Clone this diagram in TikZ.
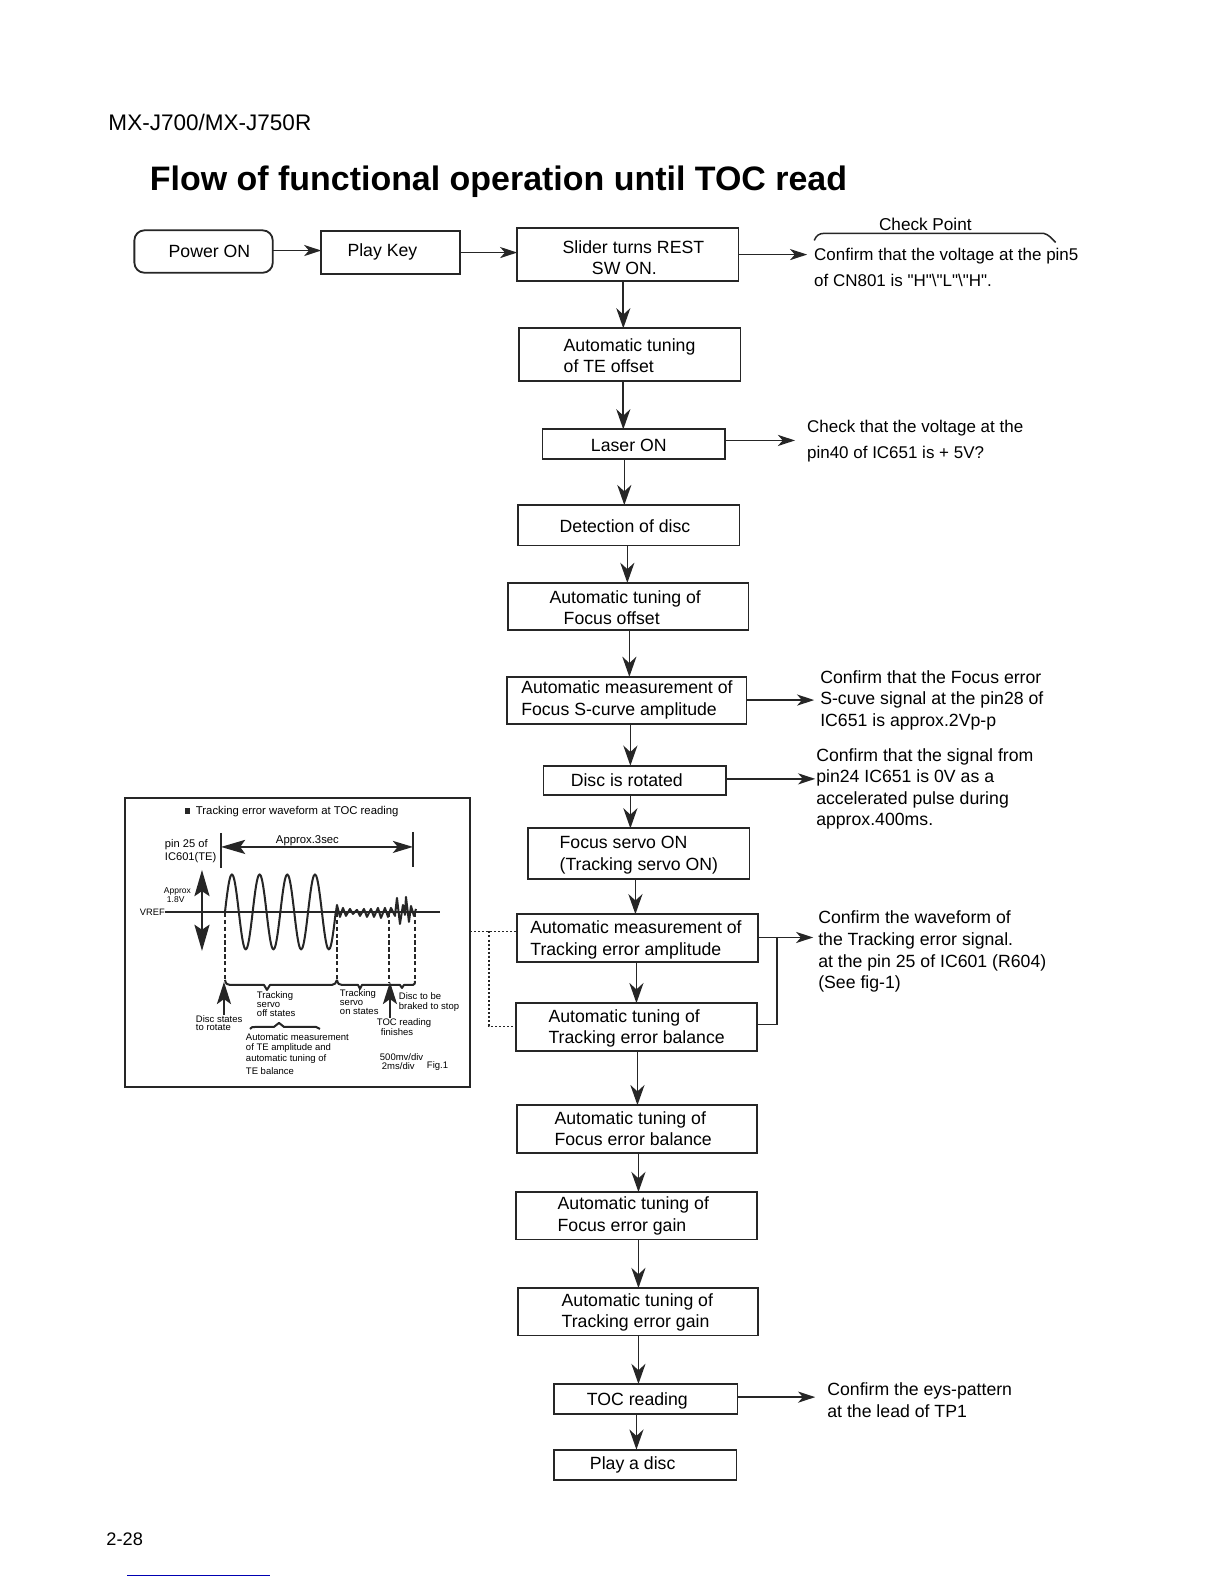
\documentclass[tikz,border=0pt]{standalone}
\usepackage{fontspec}
\setmainfont{Liberation Sans}
\newfontfamily\qf{Liberation Sans}
\usetikzlibrary{arrows.meta,calc}
\newcommand\bxbody{\fontsize{8.75}{10.7}\selectfont}
\tikzset{
  boxs/.style={draw=black!85,line width=0.9pt,rectangle,inner sep=0pt,outer sep=0pt,font=\bxbody},
  lbl/.style={anchor=west,inner sep=0pt,outer sep=0pt,align=left,font=\bxbody},
  arr/.style={draw=black!85,line width=0.8pt,-{Stealth[length=10pt,width=7pt,inset=3.2pt]}},
  arh/.style={draw=black!85,line width=0.75pt,-{Stealth[length=8.5pt,width=5.5pt,inset=2.4pt]}},
  plain/.style={draw=black!85,line width=0.75pt},
  dots/.style={draw=black!85,line width=0.75pt,dash pattern=on 1pt off 1pt},
  ptx/.style={anchor=west,inner sep=0pt,outer sep=0pt,font=\fontsize{4.7}{5.5}\selectfont},
  wave/.style={draw=black!85,line width=1pt,line join=round},
  ddash/.style={draw=black!85,line width=0.9pt,dash pattern=on 2.2pt off 1.2pt},
  parr/.style={draw=black!85,line width=0.75pt,-{Stealth[length=11pt,width=7pt,inset=2.5pt]}}
}
% left-positioned text box: name,x1,y1,x2,y2,text-left,text,shift down
\newcommand\bxl[8]{%
  \pgfmathsetmacro\bxx{(#2+#4)/2}\pgfmathsetmacro\bxy{(#3+#5)/2}%
  \pgfmathsetmacro\bxw{(#4-#2)*0.5}\pgfmathsetmacro\bxh{(#5-#3)*0.5}%
  \pgfmathsetmacro\bxp{(#6-#2)*0.5}\pgfmathsetmacro\bxd{(#8+4.4)*0.5}%
  \node[boxs,minimum width=\bxw pt,minimum height=\bxh pt](#1) at (\bxx,\bxy)
    {\makebox[\bxw pt][l]{\hspace*{\bxp pt}\raisebox{-\bxd pt}[0pt][0pt]{\begin{tabular}{@{}l@{}}#7\end{tabular}}}};}
\begin{document}
\begin{tikzpicture}[x=0.5pt,y=-0.5pt]
\useasboundingbox (0,0) rectangle (1211.6,1568);
% page texts
\node[anchor=west,inner sep=0pt,font=\fontsize{11.15}{13}\selectfont] (hdr) at (107,121) {MX-J700/MX-J750R};
\node[anchor=west,inner sep=0pt,font=\bfseries\fontsize{16.8}{20}\selectfont] (ttl) at (148,180) {Flow of functional operation until TOC read};
\node[anchor=west,inner sep=0pt,font=\fontsize{9}{11}\selectfont] (pg) at (105,1524) {2-28};
\draw[blue!70!black,line width=0.4pt] (126,1559) -- (267,1559);
% boxes
\bxl{pwr}{133}{228}{270}{270}{167}{Power ON}{2}
\draw[draw=white,line width=1.2pt] (pwr.south west) rectangle (pwr.north east);
\draw[draw=black!85,line width=0.9pt,rounded corners=5pt] (pwr.south west) rectangle (pwr.north east);
\bxl{play}{318}{229}{455}{271}{344}{Play Key}{0}
\bxl{slider}{512}{226}{731}{278}{557}{Slider turns REST\\\hspace*{14.5pt}SW ON.}{5}
\bxl{teoff}{514}{325}{733}{377}{558}{Automatic tuning\\of TE offset}{3}
\bxl{laser}{537}{425}{718}{454}{585}{Laser ON}{3}
\bxl{detect}{513}{500}{732}{540}{554}{Detection of disc}{3}
\bxl{foff}{503}{577}{741}{624}{544}{Automatic tuning of\\\hspace*{7pt}Focus offset}{3}
\bxl{scurve}{502}{670}{739}{717}{516}{Automatic measurement of\\Focus S-curve amplitude}{0}
\bxl{rot}{538}{758}{719}{787}{565}{Disc is rotated}{2}
\bxl{fservo}{523}{820}{742}{870}{554}{Focus servo ON\\(Tracking servo ON)}{1.5}
\bxl{tamp}{512}{905}{750}{952}{525}{Automatic measurement of\\Tracking error amplitude}{2}
\bxl{tbal}{511}{993}{749}{1040}{543}{Automatic tuning of\\Tracking error balance}{2}
\bxl{febal}{512}{1094}{749}{1141}{549}{Automatic tuning of\\Focus error balance}{2}
\bxl{fegain}{511}{1180}{749}{1227}{552}{Automatic tuning of\\Focus error gain}{0.5}
\bxl{tegain}{513}{1275}{750}{1322}{556}{Automatic tuning of\\Tracking error gain}{1}
\bxl{toc}{548}{1370}{730}{1400}{581}{TOC reading}{2}
\bxl{pdisc}{548}{1435}{729}{1465}{584}{Play a disc}{0}
% right-hand notes
\node[inner sep=0pt,font=\fontsize{8.5}{10}\selectfont] (chk) at (916,222) {Check Point};
\draw[plain] (806,238) .. controls (808,233) and (811,231) .. (816,231) -- (1033,231) .. controls (1038,232) and (1041,236) .. (1045,240);
\node[lbl,font=\fontsize{8.4}{13}\selectfont] (n1) at (806,265) {Confirm that the voltage at the pin5\\{\qf of CN801 is "H"\textbackslash"L"\textbackslash"H".}};
\node[lbl,font=\fontsize{8.4}{13}\selectfont] (n2) at (799,437) {Check that the voltage at the\\pin40 of IC651 is + 5V?};
\node[lbl] (n3) at (812,693) {Confirm that the Focus error\\S-cuve signal at the pin28 of\\IC651 is approx.2Vp-p};
\node[lbl] (n4) at (808,781) {Confirm that the signal from\\pin24 IC651 is 0V as a\\accelerated pulse during\\approx.400ms.};
\node[lbl] (n5) at (810,942) {Confirm the waveform of\\the Tracking error signal.\\at the pin 25 of IC601 (R604)\\(See fig-1)};
\node[lbl] (n6) at (819,1386) {Confirm the eys-pattern\\at the lead of TP1};
% flow connectors
\draw[arh] (pwr.east |- 0,248) -- (play.west |- 0,248);
\draw[arh] (play.east |- 0,250) -- (slider.west |- 0,250);
\coordinate (c1) at (799,252); \draw[arh] (slider.east |- c1) -- (c1);
\coordinate (c2) at (787,436); \draw[arh] (laser.east |- c2) -- (c2);
\coordinate (c3) at (806,693); \draw[arh] (scurve.east |- c3) -- (c3);
\coordinate (c4) at (807,771); \draw[arh] (rot.east |- c4) -- (c4);
\coordinate (c5) at (805,928); \draw[arh] (tamp.east |- c5) -- (c5);
\coordinate (c6) at (807,1383); \draw[arh] (toc.east |- c6) -- (c6);
\draw[plain] (tbal.east |- 0,1014) -| (769,928);
\draw[arr] (slider.south -| 617,0) -- (teoff.north -| 617,0);
\draw[arr] (teoff.south -| 617,0) -- (laser.north -| 617,0);
\draw[arr] (laser.south -| 618,0) -- (detect.north -| 618,0);
\draw[arr] (detect.south -| 621,0) -- (foff.north -| 621,0);
\draw[arr] (foff.south -| 623,0) -- (scurve.north -| 623,0);
\draw[arr] (scurve.south -| 624,0) -- (rot.north -| 624,0);
\draw[arr] (rot.south -| 624,0) -- (fservo.north -| 624,0);
\draw[arr] (fservo.south -| 629,0) -- (tamp.north -| 629,0);
\draw[arr] (tamp.south -| 630,0) -- (tbal.north -| 630,0);
\draw[arr] (tbal.south -| 631,0) -- (febal.north -| 631,0);
\draw[arr] (febal.south -| 632,0) -- (fegain.north -| 632,0);
\draw[arr] (fegain.south -| 632,0) -- (tegain.north -| 632,0);
\draw[arr] (tegain.south -| 632,0) -- (toc.north -| 632,0);
\draw[arr] (toc.south -| 630,0) -- (pdisc.north -| 630,0);
% panel
\node[draw=black!85,line width=1pt,rectangle,inner sep=0pt,outer sep=0pt,minimum width=170.5pt,minimum height=143pt] (panel) at (294.5,933) {};
\draw[dots] (panel.east |- 0,922) -- (tamp.west |- 0,922);
\draw[dots] (484,922) |- (tbal.west |- 0,1016);
\begin{scope}[scale=0.9898]
\fill[black!85] (185,808) rectangle (190,814);
\node[ptx,font=\fontsize{5.6}{6}\selectfont] (a1) at (196,812) {Tracking error waveform at TOC reading};
\draw[plain] (221,833) coordinate (b1) -- (221,868);
\draw[plain] (413,832) coordinate (b2) -- (413,867);
\draw[parr,{Stealth[length=12pt,width=7pt,inset=2.5pt]}-{Stealth[length=10pt,width=6pt,inset=2.5pt]}] (221,847) -- (413,847);
\node[ptx,font=\fontsize{5.6}{6}\selectfont] (a2) at (276,841) {Approx.3sec};
\node[ptx,font=\fontsize{5.5}{6}\selectfont] (a3) at (165,845) {pin 25 of};
\node[ptx,font=\fontsize{5.5}{6}\selectfont] (a4) at (165,858) {IC601(TE)};
\draw[parr,{Stealth[length=13pt,width=7.5pt,inset=2.5pt]}-{Stealth[length=13pt,width=7.5pt,inset=2.5pt]}] (202,870) -- (202,951);
\node[ptx,font=\fontsize{4.2}{5}\selectfont] (a5) at (164,892) {Approx};
\node[ptx,font=\fontsize{4.2}{5}\selectfont] (a6) at (167,900) {1.8V};
\node[ptx,font=\fontsize{4.6}{5}\selectfont] (a7) at (140,912) {VREF};
\draw[plain] (165,912) -- (440,912);
\draw[wave] plot[smooth,domain=0:1440,samples=97] ({225+0.07694*\x},{912-37.5*sin(\x)});
\draw[wave] (336,912) -- (337,905) -- (340,917) -- (343,908) -- (346,916) -- (350,909) -- (353,914) -- (357,910) -- (360,916) -- (364,909) -- (367,917) -- (371,909) -- (374,917) -- (378,908) -- (381,918) -- (385,908) -- (388,917) -- (391,908) -- (395,916) -- (397,898) -- (400,924) -- (403,905) -- (405,915) -- (406,897) -- (409,922) -- (411,906) -- (414,916) -- (416,909);
\draw[ddash] (225,913) -- (225,980);
\draw[ddash] (337,913) -- (337,980);
\draw[ddash] (389,913) -- (389,982);
\draw[ddash] (415,913) -- (415,982);
\draw[wave] (225,980) .. controls (226,984) and (227,985) .. (230,985) -- (264,985) -- (267,990) -- (270,985) -- (332,985) .. controls (335,985) and (336,983) .. (337,980);
\draw[wave] (337,980) .. controls (338,984) and (339,985) .. (342,985) -- (358,985) -- (360,989) -- (362,985) -- (400,985) -- (402,988) -- (404,985) -- (413,985) .. controls (415,985) and (415,983) .. (415,981);
\draw[parr] (224,1015) -- (224,982);
\draw[parr] (390,1018) -- (390,982);
\draw[wave] (250,1029) .. controls (251,1027) and (253,1027) .. (256,1027) -- (274,1027) -- (279,1023) -- (284,1027) -- (316,1027) .. controls (318,1027) and (319,1028) .. (320,1029);
\node[ptx] (p1) at (257,996) {Tracking};
\node[ptx] (p2) at (257,1005) {servo};
\node[ptx] (p3) at (257,1013) {off states};
\node[ptx] (p4) at (340,994) {Tracking};
\node[ptx] (p5) at (340,1003) {servo};
\node[ptx] (p6) at (340,1012) {on states};
\node[ptx] (p7) at (399,996) {Disc to be};
\node[ptx] (p8) at (399,1007) {braked to stop};
\node[ptx] (p9) at (196,1019) {Disc states};
\node[ptx] (p10) at (196,1028) {to rotate};
\node[ptx] (p11) at (377,1023) {TOC reading};
\node[ptx] (p12) at (381,1032) {finishes};
\node[ptx] (p13) at (246,1037) {Automatic measurement};
\node[ptx] (p14) at (246,1048) {of TE amplitude and};
\node[ptx] (p15) at (246,1059) {automatic tuning of};
\node[ptx] (p16) at (246,1071) {TE balance};
\node[ptx] (p17) at (380,1057) {500mv/div};
\node[ptx] (p18) at (382,1066) {2ms/div};
\node[ptx] (p19) at (427,1066) {Fig.1};
\end{scope}
\end{tikzpicture}
\end{document}
